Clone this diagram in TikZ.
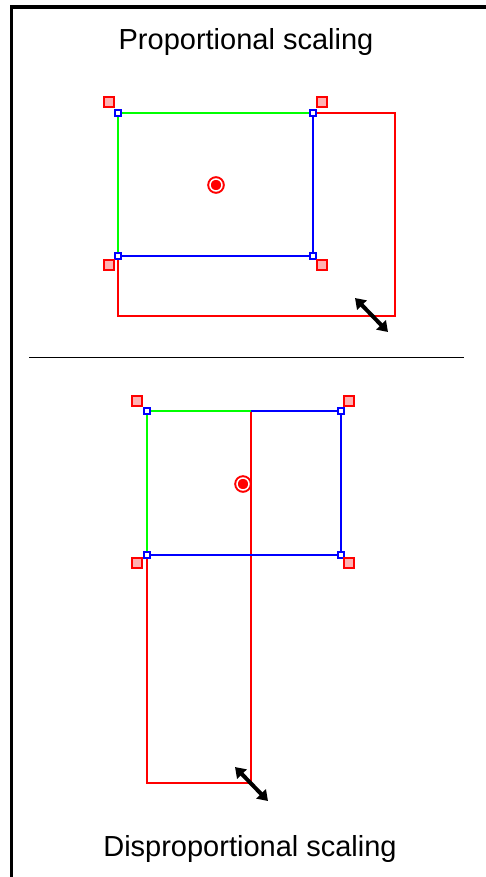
\documentclass[tikz,border=0pt]{standalone}
\usepackage{fontspec}
\setmainfont{Liberation Sans}
\usetikzlibrary{arrows.meta}

\tikzset{
  caption/.style={anchor=base, inner sep=0pt, font=\fontsize{29}{35}\selectfont},
  handle/.style={draw=red, fill=red!30, line width=2pt, minimum size=10pt, inner sep=0pt},
  corner/.style={draw=blue, fill=white, line width=2pt, minimum size=6.5pt, inner sep=0pt},
  pivot/.style={circle, draw=red, fill=red, line width=2pt, double=white, double distance=1.5pt, minimum size=12pt, inner sep=0pt},
  scaled/.style={red, line width=2.5pt},
  leftedge/.style={green, line width=2.5pt},
  rightedge/.style={blue, line width=2.5pt},
  resize/.style={line width=4pt, {Triangle[length=10pt,width=13pt]}-{Triangle[length=10pt,width=13pt]}},
}

\begin{document}
\begin{tikzpicture}[x=1pt,y=-1pt]
\useasboundingbox (0,0) rectangle (486,877);
\draw[line width=3.5pt] (11.7,877) -- (11.7,6.8) -- (486,6.8); % open frame
\draw[line width=1.3pt] (29,357.5) -- (464,357.5); % separator

% proportional scaling
\node[caption] (ptitle) at (246,50) {Proportional scaling};
\coordinate (pa) at (118,113);
\coordinate (pb) at (313,113);
\coordinate (pc) at (313,256);
\coordinate (pd) at (118,256);
\coordinate (pe) at (395,316); % dragged corner
\draw[scaled] (pa) -| (pe) -| (pa);
\draw[leftedge] (pd) -- (pa) -- (pb);
\draw[rightedge] (pb) -- (pc) -- (pd);
\foreach \p in {pa,pb,pc,pd} \node[corner] at (\p) {};
\node[handle] (ph1) at (109,102) {};
\node[handle] (ph2) at (322,102) {};
\node[handle] (ph3) at (109,265) {};
\node[handle] (ph4) at (322,265) {};
\node[pivot] (pm) at (216,185) {};
\coordinate (pr1) at (355,298);
\coordinate (pr2) at (388,332);
\draw[resize] (pr1) -- (pr2);

% disproportional scaling
\node[caption] (dtitle) at (250,856) {Disproportional scaling};
\coordinate (da) at (147,411);
\coordinate (db) at (341,411);
\coordinate (dc) at (341,555);
\coordinate (dd) at (147,555);
\coordinate (dm) at (251,411);
\coordinate (de) at (251,783); % dragged corner
\draw[scaled] (da) -| (de) -| (da);
\draw[leftedge] (dd) -- (da) -- (dm);
\draw[rightedge] (dm) -- (db) -- (dc) -- (dd);
\foreach \p in {da,db,dc,dd} \node[corner] at (\p) {};
\node[handle] (dh1) at (137,401) {};
\node[handle] (dh2) at (349,401) {};
\node[handle] (dh3) at (137,563) {};
\node[handle] (dh4) at (349,563) {};
\node[pivot] (dmk) at (243,484) {};
\coordinate (dr1) at (235,767);
\coordinate (dr2) at (268,801);
\draw[resize] (dr1) -- (dr2);
\end{tikzpicture}
\end{document}
